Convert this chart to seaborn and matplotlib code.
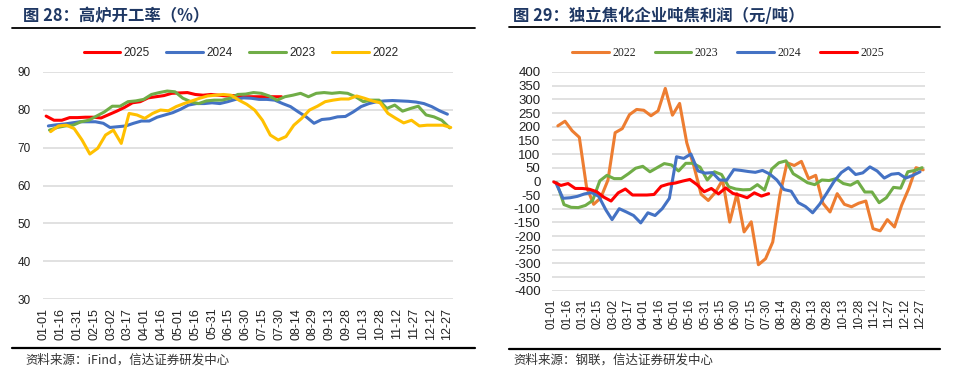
import pandas as pd
import matplotlib
matplotlib.use('Agg')
import matplotlib.pyplot as plt
import seaborn as sns
from matplotlib.lines import Line2D

sns.set_theme(style='white')
plt.rcParams['font.family'] = ['Liberation Sans', 'Noto Sans CJK SC', 'DejaVu Sans']
plt.rcParams['axes.unicode_minus'] = False

# x-axis tick labels (every 15 days)
tick_labels = ['01-01', '01-16', '01-31', '02-15', '03-02', '03-17', '04-01', '04-16',
               '05-01', '05-16', '05-31', '06-15', '06-30', '07-15', '07-30', '08-14',
               '08-29', '09-13', '09-28', '10-13', '10-28', '11-12', '11-27', '12-12', '12-27']

# first weekly observation of each year
start_dates = {'2025': '2025-01-03', '2024': '2024-01-05', '2023': '2023-01-06', '2022': '2022-01-07'}

# blast furnace operating rate (%), weekly
furnace_2025 = [78.3, 77.2, 77.2, 77.9, 77.9, 78.0, 78.0, 77.8, 78.7, 79.6, 80.6, 81.8, 82.1, 83.1,
                83.4, 83.7, 84.3, 84.4, 84.5, 84.0, 83.8, 84.0, 83.8, 83.6, 83.7, 83.4, 83.4, 83.4,
                83.4, 83.4, 83.4]
furnace_2024 = [75.7, 76.0, 76.2, 76.5, 76.8, 76.8, 76.8, 76.4, 75.3, 75.5, 75.7, 76.4, 77.0, 77.0,
                78.0, 78.6, 79.2, 80.1, 81.2, 81.6, 81.6, 81.8, 81.6, 82.1, 82.7, 83.1, 83.0, 82.7,
                82.7, 82.5, 81.6, 80.8, 79.4, 78.1, 76.4, 77.4, 77.6, 78.1, 78.2, 79.4, 80.8, 81.6,
                82.1, 82.3, 82.4, 82.3, 82.2, 82.0, 81.6, 80.8, 79.7, 78.8]
furnace_2023 = [74.6, 75.3, 75.7, 75.9, 76.8, 77.2, 78.3, 79.4, 80.9, 80.9, 82.1, 82.3, 82.7, 84.0,
                84.5, 84.9, 84.7, 83.0, 82.1, 81.6, 82.3, 82.5, 82.5, 83.0, 84.0, 84.1, 84.5, 84.3,
                83.6, 82.5, 83.4, 83.8, 84.3, 83.4, 84.3, 84.5, 84.3, 84.5, 84.3, 83.4, 82.1, 82.5,
                82.5, 80.3, 81.2, 79.6, 80.3, 80.9, 78.6, 78.1, 77.2, 75.2]
furnace_2022 = [74.2, 75.7, 75.9, 75.0, 72.0, 68.3, 69.8, 73.3, 74.6, 71.1, 79.0, 78.6, 77.7, 79.0,
                79.9, 79.7, 80.8, 81.6, 82.3, 83.0, 83.6, 83.8, 84.0, 83.8, 82.5, 81.4, 79.9, 77.2,
                73.3, 72.0, 72.9, 75.9, 77.7, 79.9, 80.9, 82.1, 82.5, 82.8, 82.8, 83.6, 83.0, 82.3,
                81.8, 79.0, 77.7, 76.5, 77.2, 75.7, 75.9, 75.9, 75.9, 75.3]

# independent coking plant profit (yuan/ton), weekly
coke_2022 = [203, 220, 185, 161, -20, -84, -60, 5, 178, 193, 244, 263, 260, 240, 258, 340, 242, 285,
             141, 55, -47, -70, -40, 5, -149, -45, -185, -148, -305, -283, -222, -50, 68, 58, 73, 10,
             22, -80, -112, -45, -84, -93, -80, -72, -173, -181, -140, -167, -87, -26, 50, 42]
coke_2023 = [-5, -85, -95, -96, -88, -70, 2, 22, 10, 10, 28, 48, 55, 35, 50, 65, 60, 38, 66, 66, 52,
             5, 35, 25, -20, -28, -31, -30, -12, -32, 45, 68, 75, 28, 12, -5, -12, 5, 3, 10, -8, -14,
             0, -39, -39, -78, -60, -22, -25, 35, 40, 50]
coke_2024 = [-5, -62, -60, -55, -46, -41, -55, -105, -140, -100, -112, -125, -152, -115, -125, -100,
             -62, 90, 84, 100, 38, 30, 32, 5, 4, 43, 40, 36, 33, 40, 27, 5, -30, -36, -78, -92, -115,
             -83, -42, 0, 32, 50, 25, 31, 53, 38, 12, 26, 29, 12, 22, 35]
coke_2025 = [-2, -15, -8, -26, -26, -29, -38, -58, -72, -42, -28, -50, -50, -50, -48, -18, -10, -6, 1,
             7, -12, -38, -26, -46, -24, -44, -51, -60, -42, -54, -45]

colors_left = {'2025': '#FF0000', '2024': '#4472C4', '2023': '#70AD47', '2022': '#FFC000'}
colors_right = {'2022': '#ED7D31', '2023': '#70AD47', '2024': '#4472C4', '2025': '#FF0000'}


def to_day(dates):
    # map month-day onto a common (non-leap) year, as day offset from 01-01
    return pd.to_datetime('2023-' + pd.Index(dates).strftime('%m-%d')).dayofyear - 1


def build_frame(series):
    frames = []
    for year, values in series.items():
        dates = pd.date_range(start_dates[year], periods=len(values), freq='7D')
        frames.append(pd.DataFrame({'day': to_day(dates), 'value': values, 'year': year}))
    return pd.concat(frames, ignore_index=True)


furnace_df = build_frame({'2025': furnace_2025, '2024': furnace_2024,
                          '2023': furnace_2023, '2022': furnace_2022})
coke_df = build_frame({'2022': coke_2022, '2023': coke_2023, '2024': coke_2024, '2025': coke_2025})
tick_pos = to_day(pd.to_datetime(['2023-' + t for t in tick_labels]))

fig = plt.figure(figsize=(9.6, 3.72), dpi=100)
W, H = 960, 372


def style_axis(ax, fs_x, fs_y, pad_y):
    ax.set_xlim(-0.8, 365)
    ax.set_xticks(tick_pos)
    ax.set_xticklabels(tick_labels, rotation=90, fontsize=fs_x)
    ax.tick_params(axis='x', length=0, pad=6, colors='#222222')
    ax.tick_params(axis='y', length=0, pad=pad_y, labelsize=fs_y, colors='#222222')
    ax.grid(axis='y', color='#D9D9D9', linewidth=1.1)
    ax.grid(axis='x', visible=False)
    for s in ax.spines.values():
        s.set_visible(False)
    ax.set_xlabel('')
    ax.set_ylabel('')


# Left: blast furnace operating rate
ax1 = fig.add_axes([43 / W, 1 - 299.3 / H, 410 / W, 227.6 / H])
sns.lineplot(data=furnace_df, x='day', y='value', hue='year', hue_order=list(colors_left),
             palette=colors_left, linewidth=2.2, estimator=None, sort=False, ax=ax1)
ax1.set_ylim(30, 90)
ax1.set_yticks(range(30, 91, 10))
style_axis(ax1, 9, 8.5, 9)
h, l = ax1.get_legend_handles_labels()
ax1.legend(h, l, ncol=4, loc='center', bbox_to_anchor=(241 / W, 1 - 53 / H),
           bbox_transform=fig.transFigure, frameon=False, fontsize=8.5,
           handlelength=3.1, handletextpad=0.3, columnspacing=1.4)

# Right: coking profit
ax2 = fig.add_axes([551.7 / W, 1 - 290.7 / H, 373.5 / W, 218.7 / H])
sns.lineplot(data=coke_df, x='day', y='value', hue='year', hue_order=list(colors_right),
             palette=colors_right, linewidth=2.2, estimator=None, sort=False, ax=ax2)
ax2.set_ylim(-400, 400)
ax2.set_yticks(range(-400, 401, 50))
style_axis(ax2, 8.5, 9.5, 8)
ax2.set_xlim(0, 365)
h, l = ax2.get_legend_handles_labels()
ax2.legend(h, l, ncol=4, loc='center', bbox_to_anchor=(728 / W, 1 - 53 / H),
           bbox_transform=fig.transFigure, frameon=False,
           prop={'family': 'Liberation Serif', 'size': 8.5},
           handlelength=3.1, handletextpad=0.3, columnspacing=1.6)

# titles, rules and source notes
title_kw = dict(fontsize=11.8, fontweight='bold', color='#1F3864', va='center',
                family=['Noto Sans CJK SC', 'DejaVu Sans'])
fig.text(23 / W, 1 - 16 / H, '图 28：高炉开工率（%）', **title_kw)
fig.text(513 / W, 1 - 16 / H, '图 29：独立焦化企业吨焦利润（元/吨）', **title_kw)

for x0, x1, y_top, y_bot in [(12, 475, 27.7, 348), (509, 940, 27.2, 349)]:
    fig.add_artist(Line2D([x0 / W, x1 / W], [1 - y_top / H] * 2, transform=fig.transFigure,
                          color='black', linewidth=1.3))
    fig.add_artist(Line2D([x0 / W, x1 / W], [1 - y_bot / H] * 2, transform=fig.transFigure,
                          color='black', linewidth=1.6))

src_kw = dict(fontsize=9, style='italic', color='#333333', va='center',
              family=['Noto Sans CJK SC', 'DejaVu Sans'])
fig.text(25 / W, 1 - 360 / H, '资料来源：iFind，信达证券研发中心', **src_kw)
fig.text(513 / W, 1 - 360 / H, '资料来源：钢联，信达证券研发中心', **src_kw)

plt.savefig('out.png', dpi=100)
plt.close()
